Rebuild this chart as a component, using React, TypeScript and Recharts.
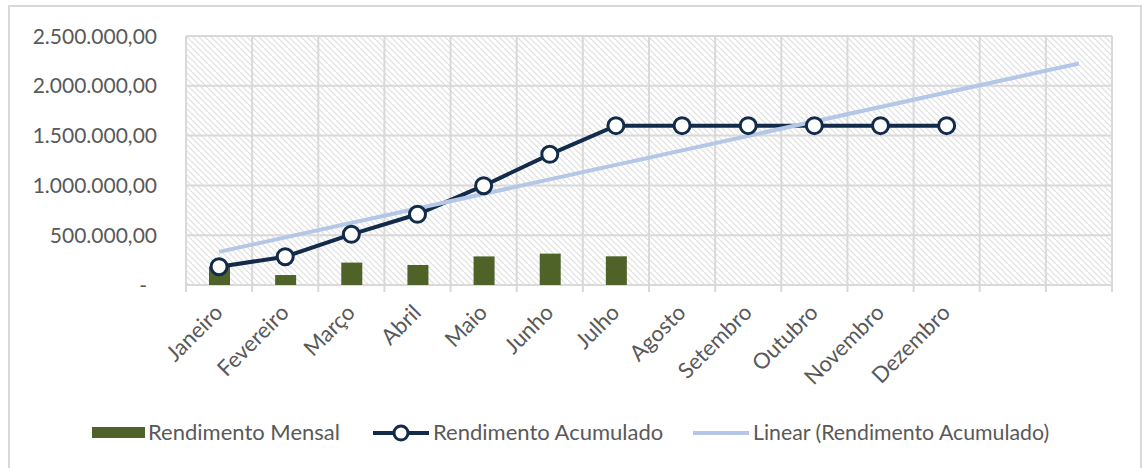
import React from 'react';
import { ComposedChart, Bar, Line, XAxis, YAxis, CartesianGrid } from 'recharts';

const months = ['Janeiro', 'Fevereiro', 'Março', 'Abril', 'Maio', 'Junho', 'Julho', 'Agosto', 'Setembro', 'Outubro', 'Novembro', 'Dezembro', ' ', '  '];
const rendimentoMensal = [184000, 100000, 225000, 201000, 287000, 315000, 288000, null, null, null, null, null, null, null];
const rendimentoAcumulado = [184000, 284000, 509000, 710000, 997000, 1312000, 1600000, 1600000, 1600000, 1600000, 1600000, 1600000, null, null];
const linearAcumulado = [333000, null, null, null, null, null, null, null, null, null, null, null, null, 2224000];
const yTicks = [0, 500000, 1000000, 1500000, 2000000, 2500000];
const legendLabels = ['Rendimento Mensal', 'Rendimento Acumulado', 'Linear (Rendimento Acumulado)'];

const data = months.map((m, i) => ({
  mes: m,
  mensal: rendimentoMensal[i],
  acumulado: rendimentoAcumulado[i],
  linear: linearAcumulado[i],
}));

const W = 1144;
const H = 468;
const MARGIN = { top: 36, right: 32, bottom: 0, left: 0 };
const Y_W = 186;
const X_H = 183;
const PLOT_W = W - MARGIN.right - Y_W;
const BAND = PLOT_W / months.length;

const FONT = 'Lato, "Open Sans", sans-serif';
const TEXT = '#595959';
const GRID = '#d9d9d9';
const GREEN = '#4F6228';
const NAVY = '#132B4A';
const LIGHT = '#B4C7E7';

function fmt(v: number): string {
  if (v === 0) return '-';
  const int = Math.floor(v).toString().replace(/\B(?=(\d{3})+(?!\d))/g, '.');
  return int + ',00';
}

const YTick = (props: any) => {
  const { x, y, payload } = props;
  const v = payload.value as number;
  return (
    <text x={x - (v === 0 ? 10 : 0)} y={y} dy="0.36em" textAnchor="end" fill={TEXT} fontSize={21} fontFamily={FONT}>
      {fmt(v)}
    </text>
  );
};

const XTick = (props: any) => {
  const { x, y, payload, index } = props;
  return (
    <g>
      <line x1={x - BAND / 2} x2={x - BAND / 2} y1={y} y2={y + 7} stroke={GRID} strokeWidth={2} />
      {index === months.length - 1 && (
        <line x1={x + BAND / 2} x2={x + BAND / 2} y1={y} y2={y + 7} stroke={GRID} strokeWidth={2} />
      )}
      <text
        x={x + 5}
        y={y + 29}
        textAnchor="end"
        fill={TEXT}
        fontSize={22}
        fontFamily={FONT}
        transform={`rotate(-45 ${x + 5} ${y + 29})`}
      >
        {String(payload.value).trim()}
      </text>
    </g>
  );
};

const vGen = ({ offset }: any) => {
  const arr: number[] = [];
  for (let i = 0; i <= months.length; i++) arr.push(offset.left + (i * offset.width) / months.length);
  return arr;
};

export default function App() {
  return (
    <div style={{ position: 'absolute', left: 0, top: 0, width: W, height: H, overflow: 'hidden', background: '#fff', fontFamily: FONT }}>
      <div style={{ position: 'absolute', left: 8, top: 5, width: 1134, height: 480, border: `2px solid ${GRID}`, boxSizing: 'border-box' }} />
      <div style={{ position: 'absolute', left: 0, top: 0 }}>
        <ComposedChart width={W} height={H} data={data} margin={MARGIN}>
          <defs>
            <pattern id="hatch" width="6" height="6" patternUnits="userSpaceOnUse">
              <rect width="6" height="6" fill="#ffffff" />
              <path d="M-1,5 l2,2 M0,0 l6,6 M5,-1 l2,2" stroke="#dedede" strokeWidth={1.1} />
            </pattern>
          </defs>
          <CartesianGrid
            stroke={GRID}
            strokeWidth={2}
            fill="url(#hatch)"
            fillOpacity={1}
            verticalCoordinatesGenerator={vGen}
          />
          <XAxis
            dataKey="mes"
            height={X_H}
            interval={0}
            axisLine={false}
            tickLine={false}
            tickSize={0}
            tickMargin={0}
            tick={<XTick />}
          />
          <YAxis
            width={Y_W}
            domain={[0, 2500000]}
            ticks={yTicks}
            axisLine={false}
            tickLine={false}
            tickSize={0}
            tickMargin={29}
            tick={<YTick />}
          />
          <Bar dataKey="mensal" fill={GREEN} barSize={21} isAnimationActive={false} />
          <Line
            dataKey="acumulado"
            stroke={NAVY}
            strokeWidth={4}
            dot={{ r: 8, fill: '#fff', stroke: NAVY, strokeWidth: 3 }}
            activeDot={false}
            isAnimationActive={false}
          />
          <Line
            dataKey="linear"
            stroke={LIGHT}
            strokeWidth={4}
            dot={false}
            activeDot={false}
            connectNulls
            isAnimationActive={false}
          />
        </ComposedChart>
      </div>
      <div style={{ position: 'absolute', left: 0, top: 416, width: W, height: 34, fontSize: 22, color: TEXT, fontFamily: FONT }}>
        <div style={{ position: 'absolute', left: 92, top: 11, width: 53, height: 11, background: GREEN }} />
        <div style={{ position: 'absolute', left: 148, top: 2, whiteSpace: 'nowrap', lineHeight: '28px' }}>{legendLabels[0]}</div>
        <svg style={{ position: 'absolute', left: 372, top: 0 }} width={58} height={34}>
          <line x1={1} x2={57} y1={17} y2={17} stroke={NAVY} strokeWidth={4} />
          <circle cx={29} cy={17} r={7} fill="#fff" stroke={NAVY} strokeWidth={3} />
        </svg>
        <div style={{ position: 'absolute', left: 433, top: 2, whiteSpace: 'nowrap', lineHeight: '28px' }}>{legendLabels[1]}</div>
        <svg style={{ position: 'absolute', left: 692, top: 0 }} width={58} height={34}>
          <line x1={1} x2={57} y1={17} y2={17} stroke={LIGHT} strokeWidth={4} />
        </svg>
        <div style={{ position: 'absolute', left: 753, top: 2, whiteSpace: 'nowrap', lineHeight: '28px', fontSize: 21.3 }}>{legendLabels[2]}</div>
      </div>
    </div>
  );
}
